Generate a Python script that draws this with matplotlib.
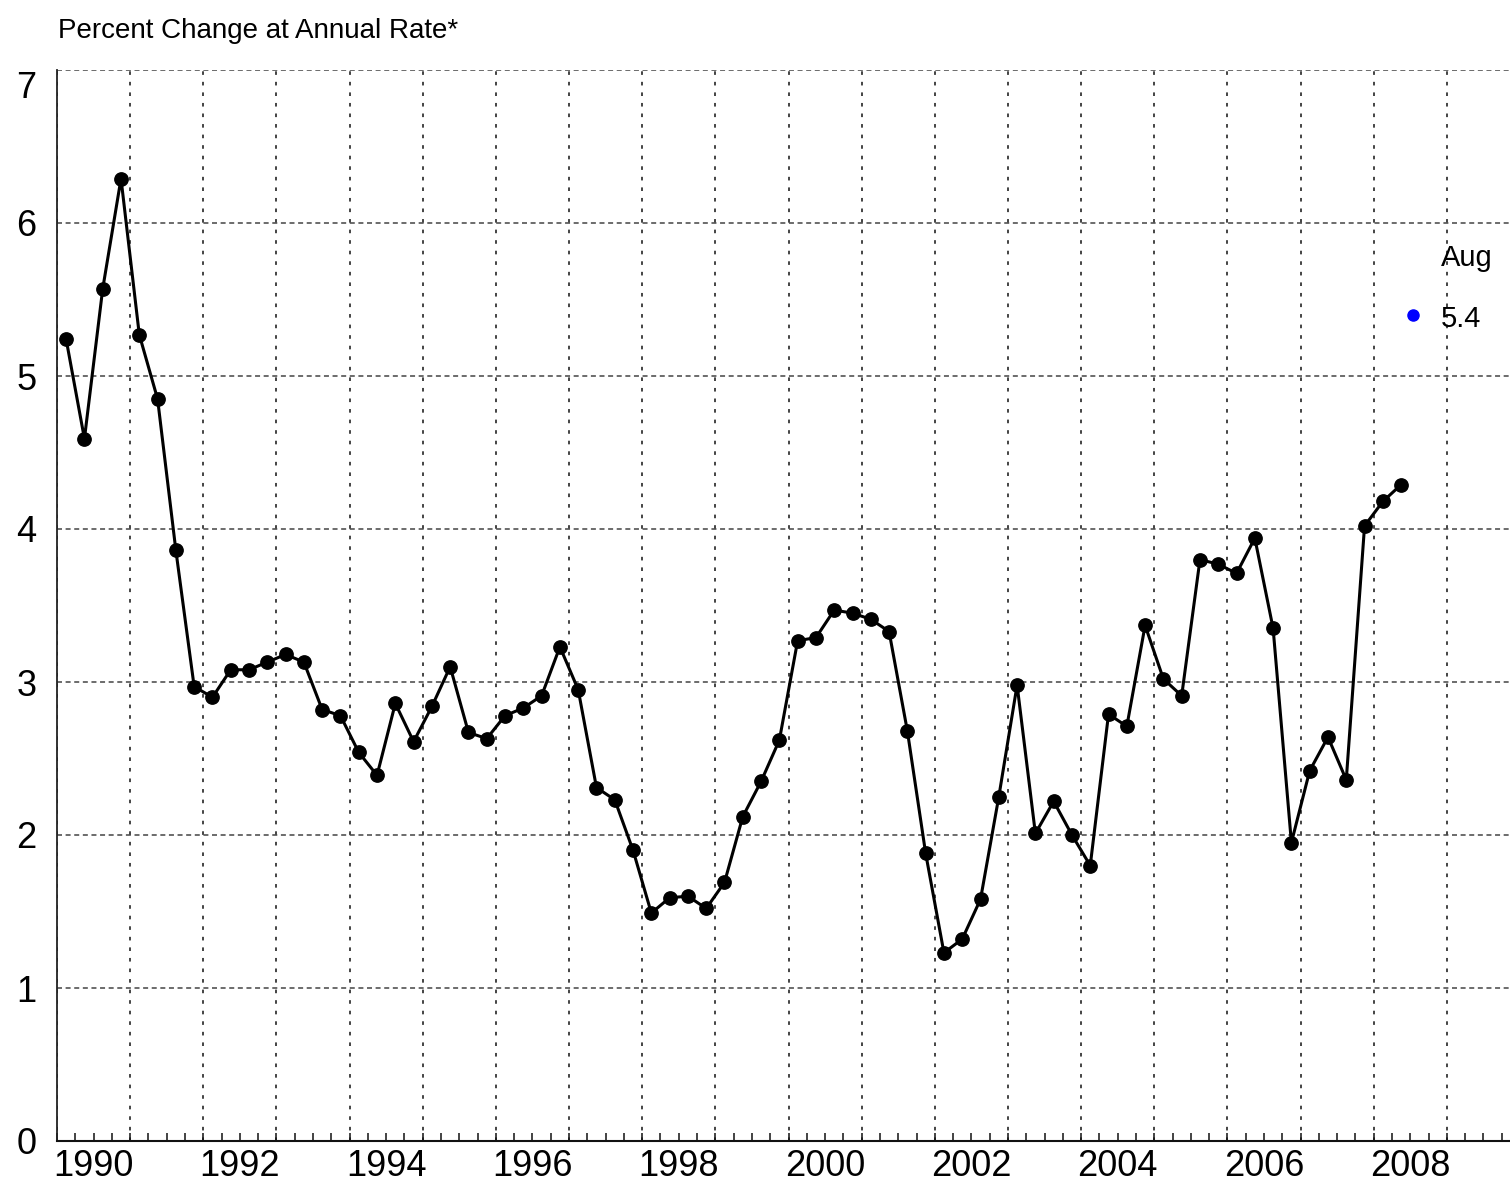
import matplotlib
matplotlib.use("Agg")
import matplotlib.pyplot as plt
import matplotlib.transforms as mtransforms
from matplotlib.ticker import FixedLocator, NullFormatter
import numpy as np
import pandas as pd

plt.rcParams['font.family'] = ['Liberation Sans', 'DejaVu Sans']
plt.rcParams['lines.scale_dashes'] = False
TICK_FS, TITLE_FS, SMALL_FS = 26, 20, 21

# ---- data ----
first_quarter = "1990Q1"
last_quarter = "2008Q2"
values = [
    5.24, 4.59, 5.57, 6.29, 5.27, 4.85, 3.86, 2.97,
    2.90, 3.08, 3.08, 3.13, 3.18, 3.13, 2.82, 2.78,
    2.54, 2.39, 2.86, 2.61, 2.84, 3.10, 2.67, 2.63,
    2.78, 2.83, 2.91, 3.23, 2.95, 2.31, 2.23, 1.90,
    1.49, 1.59, 1.60, 1.52, 1.69, 2.12, 2.35, 2.62,
    3.27, 3.29, 3.47, 3.45, 3.41, 3.33, 2.68, 1.88,
    1.23, 1.32, 1.58, 2.25, 2.98, 2.01, 2.22, 2.00,
    1.80, 2.79, 2.71, 3.37, 3.02, 2.91, 3.80, 3.77,
    3.71, 3.94, 3.35, 1.95, 2.42, 2.64, 2.36, 4.02,
    4.18, 4.29,
]
latest_month = "Aug"
latest_month_pos = 2008 + 6.5 / 12
latest_value = 5.4
year_labels = [str(y) for y in range(1990, 2009, 2)]
y_ticks = [0, 1, 2, 3, 4, 5, 6, 7]
title = "Percent Change at Annual Rate*"

quarters = pd.period_range(first_quarter, last_quarter, freq="Q")
x = np.array([p.year + (p.quarter - 0.5) / 4 for p in quarters])

# ---- figure ----
W, H = 1510, 1185
fig = plt.figure(figsize=(W / 100, H / 100), dpi=100)
px_per_year = 73.15
left_px, bottom_px, top_px = 57, 1141, 70
ax = fig.add_axes([left_px / W, (H - bottom_px) / H,
                   20 * px_per_year / W, (bottom_px - top_px) / H])
ax.set_xlim(1990, 2010)
ax.set_ylim(0, 7)

for s in ("top", "right"):
    ax.spines[s].set_visible(False)
ax.spines["left"].set_linewidth(1.3)
ax.spines["left"].set_color("#222222")
ax.spines["bottom"].set_linewidth(1.5)
ax.spines["bottom"].set_color("#111111")

# grid
ax.xaxis.set_major_locator(FixedLocator(np.arange(1990, 2011)))
ax.xaxis.set_minor_locator(FixedLocator(np.arange(1990, 2010.01, 0.25)))
ax.xaxis.set_major_formatter(NullFormatter())
ax.tick_params(axis="x", which="both", direction="in", length=8 / 1.389,
               width=1.1, color="#111111", top=False)
ax.grid(axis="x", which="major", linestyle=(0, (2.6, 5.0)), color="#111111", lw=1.1)
ax.grid(axis="y", which="major", linestyle=(0, (3.6, 2.6)), color="#444444", lw=1.1)
ax.set_axisbelow(True)

ax.set_yticks(y_ticks)
ax.set_yticklabels([str(t) for t in y_ticks])
ax.tick_params(axis="y", length=0, pad=15, labelsize=TICK_FS)

# shift the top label down a little, as in the reference
for lab in ax.get_yticklabels():
    if lab.get_text() == "7":
        lab.set_transform(lab.get_transform() +
                          mtransforms.ScaledTranslation(0, -14 / 100, fig.dpi_scale_trans))

# year labels centred on years
sec = ax.secondary_xaxis("bottom")
sec.set_xticks([int(y) + 0.5 for y in year_labels])
sec.set_xticklabels(year_labels)
sec.tick_params(length=0, pad=6, labelsize=TICK_FS)
sec.spines["bottom"].set_visible(False)

# series
ax.plot(x, values, color="black", lw=2.2, marker="o", markersize=9.6,
        markerfacecolor="black", markeredgecolor="black", clip_on=False, zorder=3)

# latest monthly value
ax.plot([latest_month_pos], [latest_value], "o", color="#0000ff",
        markersize=8, zorder=4)
ax.text(2008.915, 5.77, latest_month, fontsize=SMALL_FS, va="center", ha="left")
ax.text(2008.915, latest_value - 0.03, f"{latest_value:.1f}", fontsize=SMALL_FS,
        va="center", ha="left")

fig.text(58 / W, (H - 38) / H, title, fontsize=TITLE_FS, ha="left", va="baseline")

fig.savefig("out.png", dpi=100)
